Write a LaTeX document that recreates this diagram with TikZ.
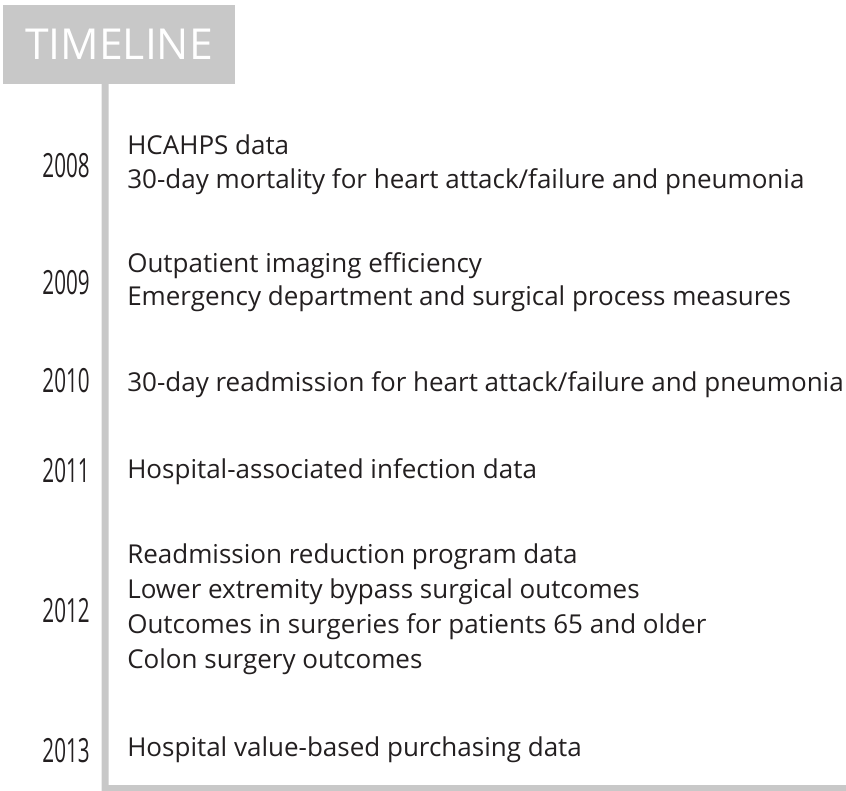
\documentclass[tikz,border=0pt]{standalone}
\usepackage{fontspec}
\setmainfont{Open Sans}
\newfontfamily\yearfont{Open Sans}[FakeStretch=0.62]

\tikzset{
  header/.style={fill=tl_gray,text=white,inner sep=0pt,minimum width=174pt,minimum height=59.25pt,font=\fontsize{32}{32}\selectfont},
  yearlabel/.style={anchor=base east,inner sep=0pt,text=tl_dark,font=\yearfont\fontsize{25}{25}\selectfont},
  entry/.style={anchor=base west,inner sep=0pt,text=tl_dark,font=\fontsize{19.5}{22}\selectfont}
}

\begin{document}
\begin{tikzpicture}[x=0.75pt,y=-0.75pt]
% ------------------------------------------------ timeline colors
\definecolor{tl_gray}{RGB}{200,200,200} %#C8C8C8
\definecolor{tl_dark}{RGB}{35,31,32}    %#231F20

\useasboundingbox (0,0) rectangle (846,791);

% ------------------------------------------------ header and rail
\node[header] (head) at (119,44.5) {TIMELINE};
\fill[tl_gray] (101.5,83) -- (108.5,83) -- (108.5,785) -- (846,785) -- (846,791) -- (101.5,791) -- cycle;

% ------------------------------------------------ years
\node[yearlabel] (y2008) at (90,178) {2008};
\node[yearlabel] (y2009) at (90,295) {2009};
\node[yearlabel] (y2010) at (90,393) {2010};
\node[yearlabel] (y2011) at (90,482) {2011};
\node[yearlabel] (y2012) at (90,622) {2012};
\node[yearlabel] (y2013) at (90,762) {2013};

% ------------------------------------------------ entries
\node[entry] (e2008a) at (127,155) {HCAHPS data};
\node[entry] (e2008b) at (127,189) {30-day mortality for heart attack/failure and pneumonia};

\node[entry] (e2009a) at (127,273) {Outpatient imaging efficiency};
\node[entry] (e2009b) at (127,306) {Emergency department and surgical process measures};

\node[entry] (e2010a) at (127,392) {30-day readmission for heart attack/failure and pneumonia};

\node[entry] (e2011a) at (127,478) {Hospital-associated infection data};

\node[entry] (e2012a) at (127,563) {Readmission reduction program data};
\node[entry] (e2012b) at (127,598) {Lower extremity bypass surgical outcomes};
\node[entry] (e2012c) at (127,633) {Outcomes in surgeries for patients 65 and older};
\node[entry] (e2012d) at (127,668) {Colon surgery outcomes};

\node[entry] (e2013a) at (127,756) {Hospital value-based purchasing data};

\end{tikzpicture}
\end{document}
